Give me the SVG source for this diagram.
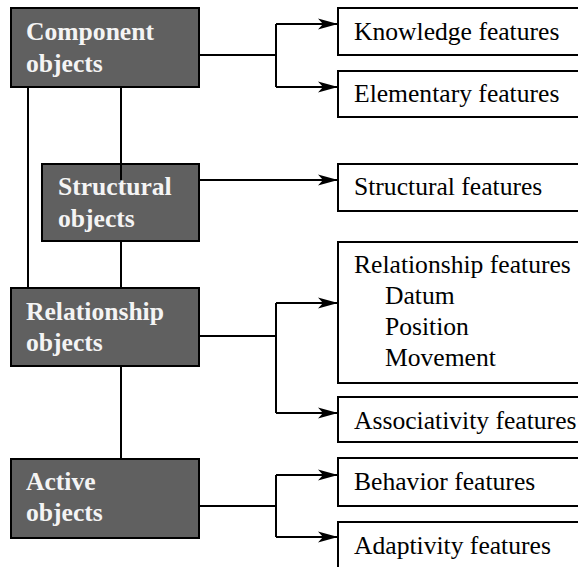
<svg xmlns="http://www.w3.org/2000/svg" width="578" height="567" viewBox="0 0 578 567">
  <style>
    .obj rect { fill: #606060; stroke: #000; stroke-width: 2; }
    .obj text { font-family: "Liberation Serif", "Times New Roman", serif; font-weight: bold; font-size: 25.6px; fill: #f4f4f4; }
    .feat rect { fill: #fff; stroke: #000; stroke-width: 2; }
    .feat text { font-family: "Liberation Serif", "Times New Roman", serif; font-size: 25.6px; fill: #000; }
    .link { fill: none; stroke: #000; stroke-width: 2; }
    .arrow { fill: none; stroke: #000; stroke-width: 2; marker-end: url(#head); }
  </style>
  <defs>
    <marker id="head" markerUnits="userSpaceOnUse" markerWidth="22" markerHeight="12" refX="20" refY="6" orient="auto">
      <path d="M0,0.5 L20,6 L0,11.5 L5,6 Z" fill="#000"/>
    </marker>
  </defs>

  <rect width="578" height="567" fill="#fff"/>

  <!-- object nodes -->
  <g id="component-objects" class="obj">
    <rect x="11" y="8" width="188" height="79"/>
    <text x="26" y="40">Component</text>
    <text x="26" y="72">objects</text>
  </g>
  <g id="structural-objects" class="obj">
    <rect x="42" y="164" width="157" height="77"/>
    <text x="58" y="195">Structural</text>
    <text x="58" y="227">objects</text>
  </g>
  <g id="relationship-objects" class="obj">
    <rect x="11" y="288" width="188" height="78"/>
    <text x="26" y="320">Relationship</text>
    <text x="26" y="351">objects</text>
  </g>
  <g id="active-objects" class="obj">
    <rect x="11" y="459" width="188" height="79"/>
    <text x="26" y="490">Active</text>
    <text x="26" y="521">objects</text>
  </g>

  <!-- feature nodes -->
  <g id="knowledge-features" class="feat">
    <rect x="338" y="8" width="260" height="47"/>
    <text x="354" y="40">Knowledge features</text>
  </g>
  <g id="elementary-features" class="feat">
    <rect x="338" y="71" width="260" height="46"/>
    <text x="354" y="102">Elementary features</text>
  </g>
  <g id="structural-features" class="feat">
    <rect x="338" y="164" width="260" height="47"/>
    <text x="354" y="195">Structural features</text>
  </g>
  <g id="relationship-features" class="feat">
    <rect x="338" y="242" width="260" height="141"/>
    <text x="354" y="273">Relationship features</text>
    <text x="385" y="304">Datum</text>
    <text x="385" y="335">Position</text>
    <text x="385" y="366">Movement</text>
  </g>
  <g id="associativity-features" class="feat">
    <rect x="338" y="397" width="260" height="45"/>
    <text x="354" y="429">Associativity features</text>
  </g>
  <g id="behavior-features" class="feat">
    <rect x="338" y="458" width="260" height="48"/>
    <text x="354" y="490">Behavior features</text>
  </g>
  <g id="adaptivity-features" class="feat">
    <rect x="338" y="522" width="260" height="60"/>
    <text x="354" y="554">Adaptivity features</text>
  </g>

  <!-- connectors -->
  <g id="connectors">
    <path class="link" d="M28,87 V288"/>
    <path class="link" d="M121,87 V180"/>
    <path class="link" d="M121,241 V288"/>
    <path class="link" d="M121,366 V459"/>

    <path class="link" d="M199,55 H276 M276,24 V87"/>
    <path class="arrow" d="M276,24 H338"/>
    <path class="arrow" d="M276,87 H338"/>

    <path class="arrow" d="M199,180 H338"/>

    <path class="link" d="M199,336 H276 M276,303 V413"/>
    <path class="arrow" d="M276,303 H338"/>
    <path class="arrow" d="M276,413 H338"/>

    <path class="link" d="M199,506 H276 M276,475 V537"/>
    <path class="arrow" d="M276,475 H338"/>
    <path class="arrow" d="M276,537 H338"/>
  </g>
</svg>
